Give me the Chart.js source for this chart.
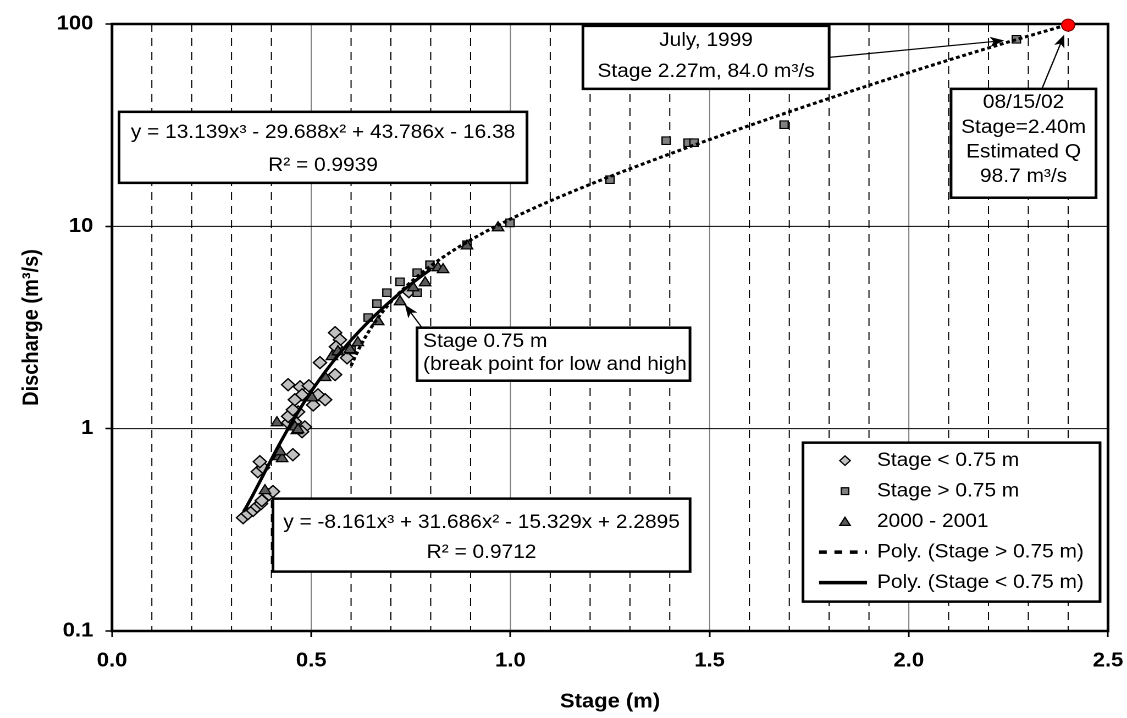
<!DOCTYPE html>
<html>
<head>
<meta charset="utf-8">
<title>Stage – Discharge Rating</title>
<script src="https://cdn.jsdelivr.net/npm/chart.js@4.4.1/dist/chart.umd.min.js"></script>
<style>
  html, body { margin: 0; padding: 0; background: #fff; overflow: hidden; }
  /* the chart is laid out on a 1025px canvas and widened to 1127px */
  #frame { width: 1025px; height: 718px; transform: scaleX(1.0995122); transform-origin: 0 0; }
  canvas { display: block; }
</style>
</head>
<body>
<div id="frame"><canvas id="rating" width="1025" height="718"></canvas></div>
<script>
// ---- gaugings, Stage < 0.75 m ----
const lowStage = [0.329, 0.341, 0.354, 0.364, 0.374, 0.376, 0.394, 0.404, 0.366, 0.379,
                  0.371, 0.454, 0.442, 0.459, 0.484, 0.477, 0.442, 0.467, 0.454, 0.442,
                  0.472, 0.494, 0.477, 0.459, 0.517, 0.535, 0.505, 0.522, 0.560, 0.560,
                  0.572, 0.562, 0.590, 0.745];
const lowQ     = [0.363, 0.380, 0.394, 0.412, 0.426, 0.441, 0.472, 0.489, 0.613, 0.642,
                  0.687, 0.744, 1.07, 1.08, 1.02, 0.966, 1.15, 1.21, 1.24, 1.65,
                  1.61, 1.63, 1.47, 1.39, 1.47, 1.39, 1.31, 2.12, 1.85, 2.98,
                  2.75, 2.54, 2.24, 4.75];

// ---- gaugings, Stage > 0.75 m (last one: July 1999) ----
const highStage = [0.600, 0.643, 0.665, 0.690, 0.723, 0.766, 0.766, 0.798, 0.891, 0.999,
                   1.250, 1.391, 1.446, 1.461, 1.687, 2.27];
const highQ     = [2.45, 3.54, 4.15, 4.70, 5.32, 5.90, 4.70, 6.46, 8.11, 10.4,
                   17.0, 26.5, 25.9, 25.9, 31.8, 84.0];

// ---- gaugings 2000 - 2001 ----
const yrStage = [0.384, 0.419, 0.427, 0.422, 0.414, 0.464, 0.459, 0.467, 0.502, 0.535,
                 0.552, 0.567, 0.597, 0.617, 0.668, 0.723, 0.756, 0.786, 0.818, 0.831,
                 0.891, 0.969];
const yrQ     = [0.494, 0.727, 0.711, 0.769, 1.07, 0.977, 1.02, 0.989, 1.42, 1.79,
                 2.27, 2.40, 2.46, 2.66, 3.38, 4.24, 4.97, 5.26, 6.24, 6.11,
                 8.0, 9.84];

// ---- 08/15/02 flood estimate ----
const floodStage = [2.40];
const floodQ     = [98.7];
const floodDate  = ['08/15/02'];

// ---- cubic trend lines (coefficients for x³, x², x, 1) ----
const highFitCoef  = [13.139, -29.688, 43.786, -16.38];
const highFitR2    = 0.9939;
const highFitRange = [0.60, 2.40];
const lowFitCoef   = [-8.161, 31.686, -15.329, 2.2895];
const lowFitR2     = 0.9712;
const lowFitRange  = [0.33, 0.80];

// ---- axes ----
const stageTicks     = [0.0, 0.5, 1.0, 1.5, 2.0, 2.5];
const dischargeTicks = [0.1, 1, 10, 100];

const WIDE = 1127 / 1025;            // CSS widening of the canvas
const FONT = '"Liberation Sans", Arial, Helvetica, sans-serif';

function pairs(xs, ys) { return xs.map((x, i) => ({ x: x, y: ys[i] })); }

function polyCurve(coef, range, step) {
  const pts = [];
  const n = Math.round((range[1] - range[0]) / step);
  for (let i = 0; i <= n; i++) {
    const x = range[0] + i * step;
    pts.push({ x: x, y: coef.reduce((acc, c) => acc * x + c, 0) });
  }
  return pts;
}

function polyLabel(coef) {
  const pw = ['x³', 'x²', 'x', ''];
  let s = 'y = ';
  coef.forEach((c, i) => {
    const term = Math.abs(c) + pw[i];
    if (i === 0) s += (c < 0 ? '-' : '') + term;
    else s += (c < 0 ? ' - ' : ' + ') + term;
  });
  return s;
}

const isHalf = v => Math.abs(v * 2 - Math.round(v * 2)) < 1e-6;

const last = highStage.length - 1;

// text boxes: corners in stage / discharge units, text offsets in px
const notes = [
  { box: [1.182, 97.9, 1.800, 47.8], align: 'center', first: 15, gap: 31,
    lines: ['July, 1999', 'Stage ' + highStage[last].toFixed(2) + 'm, ' + highQ[last].toFixed(1) + ' m³/s'],
    arrow: { from: 'rightMid', to: [highStage[last], highQ[last]], inset: 11 } },
  { box: [2.106, 47.8, 2.470, 13.85], align: 'center', first: 14, gap: 24.7,
    lines: [floodDate[0], 'Stage=' + floodStage[0].toFixed(2) + 'm', 'Estimated Q', floodQ[0].toFixed(1) + ' m³/s'],
    arrow: { from: [2.334, 47.8], to: [floodStage[0], floodQ[0]], inset: 10 } },
  { box: [0.0176, 36.8, 1.0417, 16.4], align: 'center', first: 21, gap: 33,
    lines: [polyLabel(highFitCoef), 'R² = ' + highFitR2.toFixed(4)] },
  { box: [0.404, 0.451, 1.451, 0.1966], align: 'center', first: 24, gap: 30,
    lines: [polyLabel(lowFitCoef), 'R² = ' + lowFitR2.toFixed(4)] },
  { box: [0.7656, 3.155, 1.4508, 1.726], align: 'left', first: 14, gap: 23,
    lines: ['Stage 0.75 m', '(break point for low and high'],
    arrow: { from: [0.778, 3.155], to: [0.735, 4.10], inset: 0 } }
];

// legend frame in stage / discharge units
const legendBox = [1.7344, 0.8528, 2.480, 0.1397];

const gridPlugin = {
  id: 'ratingGrid',
  beforeDatasetsDraw(chart) {
    const { ctx, chartArea: a, scales: { x, y } } = chart;
    ctx.save();
    x.ticks.forEach(t => {
      const v = t.value;
      if (v <= 1e-9 || v >= 2.5 - 1e-9) return;
      const X = x.getPixelForValue(v);
      const major = isHalf(v);
      ctx.beginPath();
      ctx.lineWidth = 1;
      ctx.strokeStyle = major ? '#808080' : '#000';
      ctx.setLineDash(major ? [] : [8, 6]);
      ctx.moveTo(X, a.top);
      ctx.lineTo(X, a.bottom);
      ctx.stroke();
    });
    ctx.setLineDash([]);
    y.ticks.forEach(t => {
      if (t.value <= 0.1 || t.value >= 100) return;
      const Y = y.getPixelForValue(t.value);
      ctx.beginPath();
      ctx.lineWidth = 1;
      ctx.strokeStyle = '#000';
      ctx.moveTo(a.left, Y);
      ctx.lineTo(a.right, Y);
      ctx.stroke();
    });
    ctx.lineWidth = 2.5;
    ctx.strokeStyle = '#000';
    ctx.strokeRect(a.left, a.top, a.width, a.height);
    ctx.restore();
  }
};

function drawArrow(ctx, x1, y1, x2, y2) {
  const ang = Math.atan2(y2 - y1, x2 - x1);
  const L = 13, W = 5;
  const c = Math.cos(ang), s = Math.sin(ang);
  ctx.lineWidth = 1.2;
  ctx.beginPath();
  ctx.moveTo(x1, y1);
  ctx.lineTo(x2 - L * 0.7 * c, y2 - L * 0.7 * s);
  ctx.stroke();
  ctx.beginPath();
  ctx.moveTo(x2, y2);
  ctx.lineTo(x2 - L * c + W * s, y2 - L * s - W * c);
  ctx.lineTo(x2 - L * 0.75 * c, y2 - L * 0.75 * s);
  ctx.lineTo(x2 - L * c - W * s, y2 - L * s + W * c);
  ctx.closePath();
  ctx.fill();
}

function drawFrame(ctx, l, t, r, b) {
  ctx.fillStyle = '#fff';
  ctx.fillRect(l, t, r - l, b - t);
  ctx.lineWidth = 2.5;
  ctx.strokeStyle = '#000';
  ctx.strokeRect(l, t, r - l, b - t);
}

const notesPlugin = {
  id: 'ratingNotes',
  afterDatasetsDraw(chart) {
    const { ctx, scales: { x, y } } = chart;
    const P = (sx, sy) => [x.getPixelForValue(sx), y.getPixelForValue(sy)];
    ctx.save();
    ctx.font = '19px ' + FONT;
    ctx.textBaseline = 'middle';

    notes.forEach(n => {
      const [l, t] = P(n.box[0], n.box[1]);
      const [r, b] = P(n.box[2], n.box[3]);
      drawFrame(ctx, l, t, r, b);
      ctx.fillStyle = '#000';
      ctx.textAlign = n.align;
      const tx = n.align === 'center' ? (l + r) / 2 : l + 5.5;
      n.lines.forEach((line, i) => ctx.fillText(line, tx, t + n.first + i * n.gap));
      if (n.arrow) {
        let sx, sy;
        if (n.arrow.from === 'rightMid') { sx = r; sy = (t + b) / 2; }
        else { [sx, sy] = P(n.arrow.from[0], n.arrow.from[1]); }
        let [ex, ey] = P(n.arrow.to[0], n.arrow.to[1]);
        const d = Math.hypot(ex - sx, ey - sy);
        ex -= (ex - sx) / d * n.arrow.inset;
        ey -= (ey - sy) / d * n.arrow.inset;
        ctx.strokeStyle = '#000';
        ctx.fillStyle = '#000';
        drawArrow(ctx, sx, sy, ex, ey);
      }
    });

    // legend
    const [ll, lt] = P(legendBox[0], legendBox[1]);
    const [lr, lb] = P(legendBox[2], legendBox[3]);
    drawFrame(ctx, ll, lt, lr, lb);
    ctx.textAlign = 'left';
    chart.data.datasets.slice(0, 5).forEach((ds, i) => {
      const cy = lt + 18 + i * 30.5;
      const mx = ll + 38.2;
      ctx.save();
      if (ds.showLine) {
        ctx.strokeStyle = '#000';
        ctx.lineWidth = 3.5;
        ctx.setLineDash(ds.borderDash && ds.borderDash.length ? [7, 7] : []);
        ctx.beginPath();
        ctx.moveTo(ll + 14.6, cy);
        ctx.lineTo(ll + 58.2, cy);
        ctx.stroke();
      } else {
        ctx.fillStyle = ds.backgroundColor;
        ctx.strokeStyle = ds.borderColor;
        ctx.lineWidth = 1.2;
        Chart.helpers.drawPoint(ctx, { pointStyle: ds.pointStyle, rotation: 0,
          radius: ds.pointStyle === 'triangle' ? 5.5 : 4.8, borderWidth: 1.2 }, mx, cy + (ds.pointStyle === 'triangle' ? 1 : 0));
      }
      ctx.restore();
      ctx.fillStyle = '#000';
      ctx.fillText(ds.label, ll + 67.3, cy);
    });
    ctx.restore();
  }
};

const tickFont = { family: FONT, size: 20, weight: 'bold' };

new Chart(document.getElementById('rating'), {
  type: 'scatter',
  data: {
    datasets: [
      { label: 'Stage < 0.75 m', data: pairs(lowStage, lowQ), pointStyle: 'rectRot', pointRadius: 6,
        backgroundColor: '#c0c0c0', borderColor: '#000', borderWidth: 1.3, showLine: false, order: 4, clip: false },
      { label: 'Stage > 0.75 m', data: pairs(highStage, highQ), pointStyle: 'rect', pointRadius: 5.3,
        backgroundColor: '#808080', borderColor: '#000', borderWidth: 1.2, showLine: false, order: 3, clip: false },
      { label: '2000 - 2001', data: pairs(yrStage, yrQ), pointStyle: 'triangle', pointRadius: 6,
        backgroundColor: '#595959', borderColor: '#000', borderWidth: 1.2, showLine: false, order: 2, clip: false },
      { label: 'Poly. (Stage > 0.75 m)', type: 'line', data: polyCurve(highFitCoef, highFitRange, 0.01),
        showLine: true, borderColor: '#000', borderWidth: 3, borderDash: [3.5, 2.5], pointRadius: 0,
        tension: 0, fill: false, order: 1 },
      { label: 'Poly. (Stage < 0.75 m)', type: 'line', data: polyCurve(lowFitCoef, lowFitRange, 0.01),
        showLine: true, borderColor: '#000', borderWidth: 3, pointRadius: 0,
        tension: 0, fill: false, order: 1 },
      { label: 'Estimated Q ' + floodDate[0], data: pairs(floodStage, floodQ), pointStyle: 'circle', pointRadius: 6,
        backgroundColor: '#ff0000', borderColor: '#800000', borderWidth: 1, showLine: false, order: 0, clip: false }
    ]
  },
  options: {
    responsive: false,
    devicePixelRatio: 2,
    animation: false,
    layout: { padding: { top: 24, right: 1025 - 1108 / WIDE, bottom: 0, left: 0 } },
    plugins: { legend: { display: false }, tooltip: { enabled: false } },
    scales: {
      x: {
        type: 'linear', min: 0, max: 2.5,
        afterBuildTicks: s => { s.ticks = Array.from({ length: 26 }, (_, i) => ({ value: i / 10 })); },
        afterFit: s => { s.height = 87; s.paddingLeft = 0; s.paddingRight = 0; },
        ticks: {
          autoSkip: false, maxRotation: 0, minRotation: 0, padding: 12, color: '#000', font: tickFont,
          callback: v => {
            const hit = stageTicks.find(t => Math.abs(t - v) < 1e-6);
            return hit === undefined ? '' : hit.toFixed(1);
          }
        },
        grid: { display: true, drawOnChartArea: false, drawTicks: true, tickLength: 6, tickWidth: 1.5,
                tickColor: c => (c.tick && isHalf(c.tick.value)) ? '#000' : 'rgba(0,0,0,0)' },
        border: { display: false },
        title: { display: true, text: 'Stage (m)', color: '#000',
                 font: { family: FONT, size: 20, weight: 'bold' }, padding: { top: 0, bottom: 4 } }
      },
      y: {
        type: 'logarithmic', min: 0.1, max: 100,
        afterBuildTicks: s => { s.ticks = dischargeTicks.map(v => ({ value: v })); },
        afterFit: s => { s.width = 112 / WIDE; s.paddingTop = 0; s.paddingBottom = 0; },
        ticks: { padding: 11, color: '#000', font: tickFont, callback: v => String(v) },
        grid: { display: true, drawOnChartArea: false, drawTicks: true, tickLength: 6, tickWidth: 1.5, tickColor: '#000' },
        border: { display: false },
        title: { display: true, text: 'Discharge (m³/s)', color: '#000',
                 font: { family: FONT, size: 20, weight: 'bold' }, padding: { top: 17, bottom: 0 } }
      }
    }
  },
  plugins: [gridPlugin, notesPlugin]
});
</script>
</body>
</html>
